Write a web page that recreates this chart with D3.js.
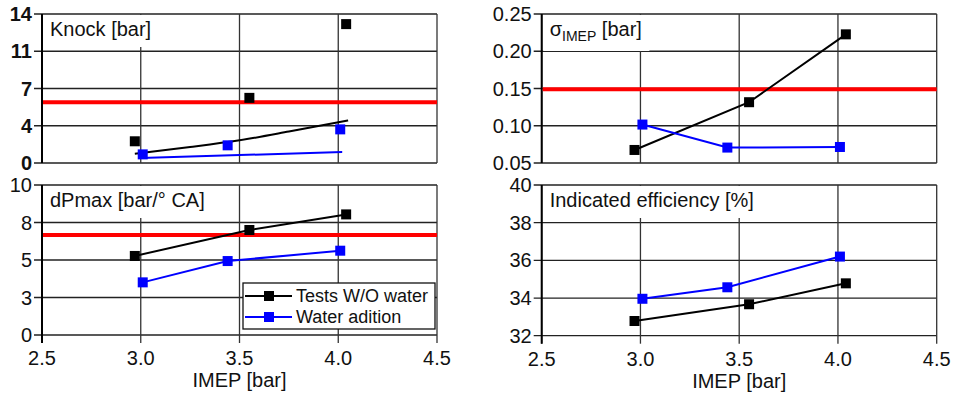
<html>
<head>
<meta charset="utf-8">
<script src="https://d3js.org/d3.v7.min.js"></script>
<style>
body { margin: 0; background: #fff; }
text { font-family: Arial, "Liberation Sans", sans-serif; fill: #111; }
</style>
</head>
<body>
<svg width="956" height="397"></svg>
<script>
// IMEP values of the measured points
const imepDry = [2.97, 3.55, 4.04];
const imepWater = [3.01, 3.44, 4.01];

// knock [bar]
const knockDry = [2.04, 6.12, 13.05];
const knockWater = [0.81, 1.66, 3.16];
const knockTrendDryX = [2.97, 3.25, 3.5, 3.75, 4.05];
const knockTrendDryY = [0.88, 1.5, 2.13, 2.95, 4.0];
const knockTrendWaterX = [3.0, 4.02];
const knockTrendWaterY = [0.47, 1.03];
const knockLimit = 5.71;

// dPmax [bar/deg CA]
const dpDry = [5.27, 7.0, 8.04];
const dpWater = [3.51, 4.93, 5.62];
const dpLimit = 6.67;

// sigma IMEP [bar]
const sigmaDry = [0.0675, 0.1316, 0.2227];
const sigmaWater = [0.1016, 0.0707, 0.0715];
const sigmaLimit = 0.149;

// indicated efficiency [%]
const effDry = [32.78, 33.67, 34.78];
const effWater = [33.96, 34.57, 36.2];

const xTicks = [2.5, 3.0, 3.5, 4.0, 4.5];
const legendLabels = ['Tests W/O water', 'Water adition'];

const svg = d3.select('svg');
const zip = (xs, ys) => xs.map((x, i) => [x, ys[i]]);
const SQ = 10;

function panel(o) {
  const x = d3.scaleLinear().domain([2.5, 4.5]).range([o.left, o.left + 395]);
  const y = d3.scaleLinear().domain(o.domain).range([o.top + o.h, o.top]);
  const g = svg.append('g');

  // grid
  g.selectAll('.hg').data(o.yTicks).enter().append('line')
    .attr('x1', x(2.5) - 8).attr('x2', x(4.5))
    .attr('y1', d => y(d)).attr('y2', d => y(d))
    .attr('stroke', '#222').attr('stroke-width', 1.3);
  g.selectAll('.vg').data(xTicks).enter().append('line')
    .attr('x1', d => x(d)).attr('x2', d => x(d))
    .attr('y1', y.range()[1]).attr('y2', y.range()[0] + (o.xLabels ? 8 : 0))
    .attr('stroke', '#333').attr('stroke-width', 1.3);
  g.append('line').attr('x1', x(2.5)).attr('x2', x(2.5))
    .attr('y1', y.range()[1]).attr('y2', y.range()[0] + (o.xLabels ? 8 : 0))
    .attr('stroke', '#000').attr('stroke-width', 2);

  // y tick labels
  g.selectAll('.yl').data(o.yTicks).enter().append('text')
    .attr('x', x(2.5) - 10).attr('y', d => y(d)).attr('dy', '0.35em')
    .attr('text-anchor', 'end').style('font-size', '20px')
    .style('font-weight', o.boldY ? 'bold' : 'normal')
    .text(d => d3.format(o.fmt)(d));

  if (o.xLabels) {
    g.selectAll('.xl').data(xTicks).enter().append('text')
      .attr('x', d => x(d)).attr('y', y.range()[0] + 30)
      .attr('text-anchor', 'middle').style('font-size', '20px')
      .text(d => d3.format('.1f')(d));
    g.append('text').attr('x', x(3.5)).attr('y', y.range()[0] + 52)
      .attr('text-anchor', 'middle').style('font-size', '20px').text('IMEP [bar]');
  }

  // title with white box
  const tg = g.append('g');
  const t = tg.append('text').attr('x', x(2.5) + 8).attr('y', y.range()[1] + 22)
    .style('font-size', '20px');
  o.title(t);
  const bb = t.node().getBBox();
  tg.insert('rect', 'text').attr('x', x(2.5) + 1.5).attr('y', y.range()[1] + 1)
    .attr('width', bb.x + bb.width + 6 - x(2.5)).attr('height', bb.y + bb.height + 6 - y.range()[1])
    .attr('fill', '#fff');

  // limit line
  if (o.limit != null) {
    g.append('line').attr('x1', x(2.5) + 1).attr('x2', x(4.5))
      .attr('y1', y(o.limit)).attr('y2', y(o.limit))
      .attr('stroke', '#ff0000').attr('stroke-width', 4);
  }

  (o.lines || []).forEach(l => {
    const line = d3.line().x(d => x(d[0])).y(d => y(d[1]));
    if (l.curve) line.curve(d3.curveMonotoneX);
    g.append('path').attr('d', line(l.pts))
      .attr('fill', 'none').attr('stroke', l.color).attr('stroke-width', 2);
  });
  o.points.forEach(s => {
    g.selectAll(null).data(s.pts).enter().append('rect')
      .attr('x', d => x(d[0]) - SQ / 2).attr('y', d => y(d[1]) - SQ / 2)
      .attr('width', SQ).attr('height', SQ).attr('fill', s.color);
  });
}

panel({
  left: 42, top: 14, h: 149, domain: [0, 14], yTicks: [0, 3.5, 7, 10.5, 14], fmt: '.0f', boldY: true,
  limit: knockLimit,
  title: t => t.text('Knock [bar]'),
  lines: [
    { pts: zip(knockTrendDryX, knockTrendDryY), color: '#000', curve: true },
    { pts: zip(knockTrendWaterX, knockTrendWaterY), color: '#0000ff' }
  ],
  points: [
    { pts: zip(imepDry, knockDry), color: '#000' },
    { pts: zip(imepWater, knockWater), color: '#0000ff' }
  ]
});

panel({
  left: 42, top: 185, h: 150, domain: [0, 10], yTicks: [0, 2.5, 5, 7.5, 10], fmt: '.0f', xLabels: true,
  limit: dpLimit,
  title: t => t.text('dPmax [bar/° CA]'),
  lines: [
    { pts: zip(imepDry, dpDry), color: '#000' },
    { pts: zip(imepWater, dpWater), color: '#0000ff' }
  ],
  points: [
    { pts: zip(imepDry, dpDry), color: '#000' },
    { pts: zip(imepWater, dpWater), color: '#0000ff' }
  ]
});

panel({
  left: 541.7, top: 14, h: 149, domain: [0.05, 0.25], yTicks: [0.05, 0.10, 0.15, 0.20, 0.25], fmt: '.2f',
  limit: sigmaLimit,
  title: t => {
    t.append('tspan').text('σ');
    t.append('tspan').attr('dy', 5).style('font-size', '14px').text('IMEP');
    t.append('tspan').attr('dy', -5).text(' [bar]');
  },
  lines: [
    { pts: zip(imepDry, sigmaDry), color: '#000' },
    { pts: zip(imepWater, sigmaWater), color: '#0000ff' }
  ],
  points: [
    { pts: zip(imepDry, sigmaDry), color: '#000' },
    { pts: zip(imepWater, sigmaWater), color: '#0000ff' }
  ]
});

panel({
  left: 541.7, top: 185, h: 150.7, domain: [32, 40], yTicks: [32, 34, 36, 38, 40], fmt: 'd', xLabels: true,
  limit: null,
  title: t => t.text('Indicated efficiency [%]'),
  lines: [
    { pts: zip(imepDry, effDry), color: '#000' },
    { pts: zip(imepWater, effWater), color: '#0000ff' }
  ],
  points: [
    { pts: zip(imepDry, effDry), color: '#000' },
    { pts: zip(imepWater, effWater), color: '#0000ff' }
  ]
});

// legend in dPmax panel
const lg = svg.append('g').attr('transform', 'translate(243,283)');
lg.append('rect').attr('width', 192).attr('height', 46)
  .attr('fill', '#fff').attr('stroke', '#111').attr('stroke-width', 1.3);
['#000', '#0000ff'].forEach((c, i) => {
  const yy = 13 + i * 21;
  lg.append('line').attr('x1', 2).attr('x2', 49).attr('y1', yy).attr('y2', yy)
    .attr('stroke', c).attr('stroke-width', 2);
  lg.append('rect').attr('x', 21).attr('y', yy - SQ / 2).attr('width', SQ).attr('height', SQ).attr('fill', c);
  lg.append('text').attr('x', 53).attr('y', yy).attr('dy', '0.35em')
    .style('font-size', '18px').text(legendLabels[i]);
});
</script>
</body>
</html>
